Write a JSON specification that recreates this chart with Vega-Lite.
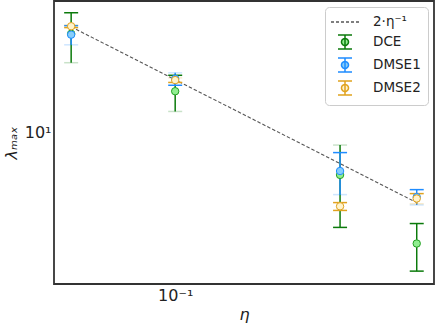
{
  "$schema": "https://vega.github.io/schema/vega-lite/v6.json",
  "width": 380,
  "height": 283,
  "autosize": {"type": "none"},
  "padding": {"left": 54, "top": 1, "right": 2, "bottom": 40},
  "config": {
    "view": {"stroke": "#333333", "strokeWidth": 1.8},
    "axis": {
      "grid": false,
      "domain": false,
      "tickColor": "#333333",
      "tickWidth": 1.1,
      "tickSize": 0,
      "labelFont": "DejaVu Sans",
      "labelFontSize": 16,
      "labelColor": "#222222",
      "labelFlush": false,
      "labelOverlap": false,
      "titleFont": "DejaVu Sans",
      "titleFontSize": 16,
      "titleFontWeight": "normal",
      "titleFontStyle": "italic",
      "titleColor": "#222222"
    },
    "legend": {
      "orient": "top-right",
      "offset": 6,
      "padding": 7,
      "rowPadding": 3,
      "fillColor": "rgba(255,255,255,0.8)",
      "strokeColor": "#cccccc",
      "cornerRadius": 4,
      "labelFont": "DejaVu Sans",
      "labelFontSize": 13.5,
      "labelColor": "#222222",
      "symbolSize": 196,
      "symbolStrokeWidth": 1.5,
      "symbolOffset": 5,
      "labelOffset": 20
    }
  },
  "datasets": {
    "points": [
      {"method": "DCE", "eta": 0.05, "lambda": 36.5, "lo": 25.0, "hi": 48.1, "faint": "lo"},
      {"method": "DCE", "eta": 0.1, "lambda": 17.2, "lo": 13.2, "hi": 21.2, "faint": "lo"},
      {"method": "DCE", "eta": 0.3, "lambda": 5.75, "lo": 2.89, "hi": 8.5, "faint": "hi"},
      {"method": "DCE", "eta": 0.5, "lambda": 2.34, "lo": 1.63, "hi": 3.04, "faint": "none"},
      {"method": "DMSE1", "eta": 0.05, "lambda": 36.1, "lo": 31.6, "hi": 40.6, "faint": "lo"},
      {"method": "DMSE1", "eta": 0.1, "lambda": 20.25, "lo": 18.6, "hi": 21.9, "faint": "hi"},
      {"method": "DMSE1", "eta": 0.3, "lambda": 6.05, "lo": 4.44, "hi": 7.7, "faint": "lo"},
      {"method": "DMSE1", "eta": 0.5, "lambda": 4.3, "lo": 3.88, "hi": 4.74, "faint": "lo"},
      {"method": "DMSE2", "eta": 0.05, "lambda": 40.3, "lo": 39.6, "hi": 41.0, "faint": "hi"},
      {"method": "DMSE2", "eta": 0.1, "lambda": 19.9, "lo": 19.3, "hi": 20.5, "faint": "hi"},
      {"method": "DMSE2", "eta": 0.3, "lambda": 3.81, "lo": 3.61, "hi": 4.0, "faint": "none"},
      {"method": "DMSE2", "eta": 0.5, "lambda": 4.22, "lo": 3.94, "hi": 4.5, "faint": "lo"}
    ],
    "guide": [
      {"method": "2·η⁻¹", "eta": 0.05, "lambda": 40},
      {"method": "2·η⁻¹", "eta": 0.1, "lambda": 20},
      {"method": "2·η⁻¹", "eta": 0.3, "lambda": 6.667},
      {"method": "2·η⁻¹", "eta": 0.5, "lambda": 4}
    ]
  },
  "layer": [
    {
      "data": {"name": "guide"},
      "mark": {"type": "line", "strokeDash": [3.5, 2], "strokeWidth": 1.1},
      "encoding": {
        "x": {
          "field": "eta", "type": "quantitative",
          "scale": {"type": "log", "domain": [0.0446, 0.561], "nice": false, "zero": false},
          "axis": {
            "title": "η",
            "values": [0.05, 0.06, 0.07, 0.08, 0.09, 0.1, 0.2, 0.3, 0.4, 0.5],
            "labelExpr": "datum.value === 0.1 ? '10⁻¹' : ''",
            "labelPadding": 3,
            "titlePadding": 3,
            "encode": {
              "ticks": {
                "update": {"y2": {"signal": "datum.value === 0.1 ? -6 : -3"}}
              }
            }
          }
        },
        "y": {
          "field": "lambda", "type": "quantitative",
          "scale": {"type": "log", "domain": [1.377, 56.1], "nice": false, "zero": false},
          "axis": {
            "title": "λₘₐₓ",
            "values": [2, 3, 4, 5, 6, 7, 8, 9, 10, 20, 30, 40, 50],
            "labelExpr": "datum.value === 10 ? '10¹' : ''",
            "labelPadding": 3,
            "titlePadding": 5,
            "encode": {
              "ticks": {
                "update": {"x2": {"signal": "datum.value === 10 ? 6 : 3"}}
              }
            }
          }
        },
        "color": {
          "field": "method", "type": "nominal",
          "scale": {
            "domain": ["2·η⁻¹", "DCE", "DMSE1", "DMSE2"],
            "range": ["#555555", "#0b7a0b", "#1e8cff", "#e0a21e"]
          },
          "legend": {
            "title": null,
            "encode": {
              "symbols": {
                "update": {
                  "shape": {"signal": "datum.value === '2·η⁻¹' ? 'M-2,0L2,0' : 'M-1,-1L1,-1M0,-1L0,1M-1,1L1,1M0.5,0A0.5,0.5 0 1 1 -0.5,0A0.5,0.5 0 1 1 0.5,0Z'"},
                  "fill": {"signal": "datum.value === 'DCE' ? '#90ee90' : datum.value === 'DMSE1' ? '#87cefa' : datum.value === 'DMSE2' ? '#fff3cc' : 'transparent'"},
                  "stroke": {"signal": "datum.value === 'DCE' ? '#0b7a0b' : datum.value === 'DMSE1' ? '#1e8cff' : datum.value === 'DMSE2' ? '#e0a21e' : '#555555'"},
                  "strokeDash": {"signal": "datum.value === '2·η⁻¹' ? [3, 2] : [1, 0]"},
                  "opacity": {"value": 1}
                }
              }
            }
          }
        }
      }
    },
    {
      "data": {"name": "points"},
      "mark": {"type": "rule", "strokeWidth": 1.5},
      "encoding": {
        "x": {"field": "eta", "type": "quantitative", "scale": {"type": "log", "domain": [0.0446, 0.561], "nice": false, "zero": false}, "title": "η"},
        "y": {"field": "lo", "type": "quantitative", "scale": {"type": "log", "domain": [1.377, 56.1], "nice": false, "zero": false}, "title": "λₘₐₓ"},
        "y2": {"field": "hi"},
        "color": {"field": "method", "type": "nominal"}
      }
    },
    {
      "data": {"name": "points"},
      "transform": [{"fold": ["lo", "hi"], "as": ["end", "val"]}],
      "mark": {"type": "rule", "strokeWidth": 1.5, "xOffset": -7, "x2Offset": 7},
      "encoding": {
        "x": {"field": "eta", "type": "quantitative", "scale": {"type": "log", "domain": [0.0446, 0.561], "nice": false, "zero": false}, "title": "η"},
        "x2": {"field": "eta"},
        "y": {"field": "val", "type": "quantitative", "scale": {"type": "log", "domain": [1.377, 56.1], "nice": false, "zero": false}, "title": "λₘₐₓ"},
        "color": {"field": "method", "type": "nominal"},
        "opacity": {"condition": {"test": "datum.end === datum.faint", "value": 0.22}, "value": 1}
      }
    },
    {
      "data": {"name": "points"},
      "mark": {"type": "circle", "size": 55, "strokeWidth": 1, "opacity": 1},
      "encoding": {
        "x": {"field": "eta", "type": "quantitative", "scale": {"type": "log", "domain": [0.0446, 0.561], "nice": false, "zero": false}, "title": "η"},
        "y": {"field": "lambda", "type": "quantitative", "scale": {"type": "log", "domain": [1.377, 56.1], "nice": false, "zero": false}, "title": "λₘₐₓ"},
        "fill": {
          "field": "method", "type": "nominal",
          "scale": {"domain": ["DCE", "DMSE1", "DMSE2"], "range": ["#90ee90", "#87cefa", "#fff3cc"]},
          "legend": null
        },
        "stroke": {
          "field": "method", "type": "nominal",
          "scale": {"domain": ["DCE", "DMSE1", "DMSE2"], "range": ["#22a022", "#1e8cff", "#e0a21e"]},
          "legend": null
        }
      }
    }
  ]
}
